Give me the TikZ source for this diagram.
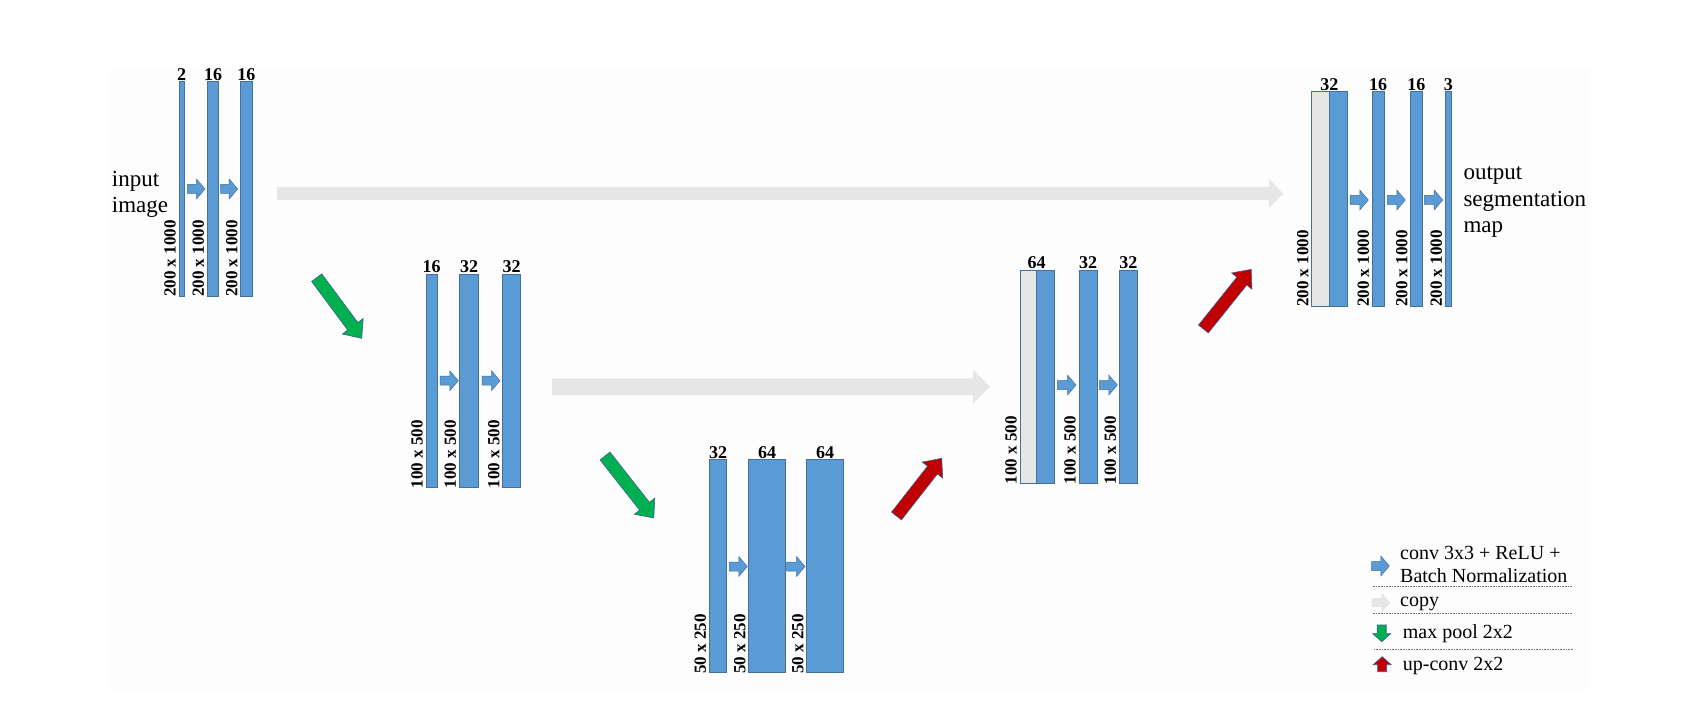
\documentclass[tikz,border=0pt]{standalone}
\usepackage{fontspec}
\setmainfont{Liberation Serif}
\usetikzlibrary{calc}
\definecolor{barblue}{HTML}{5B9BD5}
\definecolor{barline}{HTML}{41719C}
\definecolor{catgrey}{HTML}{E7E6E6}
\definecolor{copygrey}{HTML}{E6E6E6}
\definecolor{poolgreen}{HTML}{00B050}
\definecolor{upred}{HTML}{C00000}
\definecolor{arrline}{HTML}{3A5F8F}
\definecolor{bgfaint}{HTML}{FDFDFD}
\tikzset{
  bar/.style={draw=barline, fill=barblue, line width=0.7pt, inner sep=0pt, outer sep=0pt, anchor=north west},
  catbar/.style={bar, fill=catgrey},
  toplab/.style={font=\fontsize{18}{20}\selectfont\bfseries, inner sep=0pt, anchor=base},
  dimlab/.style={font=\fontsize{17}{19}\selectfont\bfseries, inner sep=0pt, rotate=90, anchor=south west, xshift=-1pt, yshift=3pt},
  convarrow/.style={fill=barblue, draw=barline, line width=0.5pt},
  copyarrow/.style={fill=copygrey, draw=none},
  poolarrow/.style={fill=poolgreen, draw=arrline, line width=0.6pt},
  uparrow/.style={fill=upred, draw=arrline, line width=0.6pt},
  bigtext/.style={font=\fontsize{23}{26.5}\selectfont, inner sep=0pt, align=left, anchor=base west},
  legtext/.style={font=\fontsize{20}{22.5}\selectfont, inner sep=0pt, align=left, anchor=base west},
  legline/.style={densely dotted, draw=black!55, line width=0.6pt}
}
% #1 style, #2 tail, #3 tip, #4 half shaft width, #5 half head width, #6 head length
\newcommand\blockarrow[6]{%
  \coordinate (tmph) at ($(#3)!#6!(#2)$);
  \draw[#1] ($(#2)!#4!90:(#3)$) -- ($(tmph)!#4!-90:(#2)$) -- ($(tmph)!#5!-90:(#2)$)
    -- (#3) -- ($(tmph)!#5!90:(#2)$) -- ($(tmph)!#4!90:(#2)$) -- ($(#2)!#4!-90:(#3)$) -- cycle;
}
\newcommand\convarr[2]{\blockarrow{convarrow}{#1}{#2}{4.5pt}{10pt}{8.5pt}}
\begin{document}
\begin{tikzpicture}[x=1pt, y=-1pt]
\path[use as bounding box, fill=white] (0,0) rectangle (1703,703);
\fill[bgfaint] (110,68) rectangle (1590,690);

% ---------- encoder level 1
\node[bar, minimum width=5pt, minimum height=214.3pt] (e11) at (179,81.7) {};
\node[bar, minimum width=11.4pt, minimum height=214.3pt] (e12) at (207.3,81.7) {};
\node[bar, minimum width=11.3pt, minimum height=214.3pt] (e13) at (240.7,81.7) {};
\node[toplab] (l11) at ([yshift=1pt]e11.north) {2};
\node[toplab] (l12) at ([yshift=1pt]e12.north) {16};
\node[toplab] (l13) at ([yshift=1pt]e13.north) {16};
\node[dimlab] (s11) at (e11.south west) {200 x 1000};
\node[dimlab] (s12) at (e12.south west) {200 x 1000};
\node[dimlab] (s13) at (e13.south west) {200 x 1000};
\coordinate (a11t) at (187.3,189); \coordinate (a11h) at (205,189);
\coordinate (a12t) at (220.7,189); \coordinate (a12h) at (237.7,189);
\convarr{a11t}{a11h}
\convarr{a12t}{a12h}
\node[bigtext] (inlab) at (111.7,213) {input\\image};

% ---------- encoder level 2
\node[bar, minimum width=11.3pt, minimum height=213.3pt] (e21) at (426,274) {};
\node[bar, minimum width=19.4pt, minimum height=213.3pt] (e22) at (459.3,274) {};
\node[bar, minimum width=18pt, minimum height=213.3pt] (e23) at (502.7,274) {};
\node[toplab] (l21) at ([yshift=1pt]e21.north) {16};
\node[toplab] (l22) at ([yshift=1pt]e22.north) {32};
\node[toplab] (l23) at ([yshift=1pt]e23.north) {32};
\node[dimlab] (s21) at (e21.south west) {100 x 500};
\node[dimlab] (s22) at (e22.south west) {100 x 500};
\node[dimlab] (s23) at (e23.south west) {100 x 500};
\coordinate (a21t) at (440,380.7); \coordinate (a21h) at (458.3,380.7);
\coordinate (a22t) at (482,380.7); \coordinate (a22h) at (500,380.7);
\convarr{a21t}{a21h}
\convarr{a22t}{a22h}

% ---------- level 3
\node[bar, minimum width=17.4pt, minimum height=213.4pt] (e31) at (709.3,459.3) {};
\node[bar, minimum width=36.6pt, minimum height=213.4pt] (e32) at (748.7,459.3) {};
\node[bar, minimum width=36.6pt, minimum height=213.4pt] (e33) at (806.7,459.3) {};
\node[toplab] (l31) at ([yshift=1pt]e31.north) {32};
\node[toplab] (l32) at ([yshift=1pt]e32.north) {64};
\node[toplab] (l33) at ([yshift=1pt]e33.north) {64};
\node[dimlab] (s31) at (e31.south west) {50 x 250};
\node[dimlab] (s32) at (e32.south west) {50 x 250};
\node[dimlab] (s33) at (e33.south west) {50 x 250};
\coordinate (a31t) at (729.3,566.5); \coordinate (a31h) at (747.3,566.5);
\coordinate (a32t) at (786.7,566.5); \coordinate (a32h) at (805,566.5);
\convarr{a31t}{a31h}
\convarr{a32t}{a32h}

% ---------- decoder level 2
\node[catbar, minimum width=16.7pt, minimum height=213.3pt] (d2g) at (1020,270) {};
\node[bar, minimum width=17.6pt, minimum height=213.3pt] (d21) at (1036.7,270) {};
\node[bar, minimum width=18pt, minimum height=213.3pt] (d22) at (1079,270) {};
\node[bar, minimum width=18pt, minimum height=213.3pt] (d23) at (1119.3,270) {};
\node[toplab] (l41) at ([yshift=1pt]d2g.north east) {64};
\node[toplab] (l42) at ([yshift=1pt]d22.north) {32};
\node[toplab] (l43) at ([yshift=1pt]d23.north) {32};
\node[dimlab] (s41) at (d2g.south west) {100 x 500};
\node[dimlab] (s42) at (d22.south west) {100 x 500};
\node[dimlab] (s43) at (d23.south west) {100 x 500};
\coordinate (a41t) at (1057.3,385); \coordinate (a41h) at (1076,385);
\coordinate (a42t) at (1099.3,385); \coordinate (a42h) at (1117.3,385);
\convarr{a41t}{a41h}
\convarr{a42t}{a42h}

% ---------- decoder level 1
\node[catbar, minimum width=17.6pt, minimum height=214.3pt] (d1g) at (1311.7,91.7) {};
\node[bar, minimum width=18pt, minimum height=214.3pt] (d11) at (1329.3,91.7) {};
\node[bar, minimum width=11.7pt, minimum height=214.3pt] (d12) at (1372.3,91.7) {};
\node[bar, minimum width=11.3pt, minimum height=214.3pt] (d13) at (1410.7,91.7) {};
\node[bar, minimum width=6pt, minimum height=214.3pt] (d14) at (1445.3,91.7) {};
\node[toplab] (l51) at ([yshift=1pt]d1g.north east) {32};
\node[toplab] (l52) at ([yshift=1pt]d12.north) {16};
\node[toplab] (l53) at ([yshift=1pt]d13.north) {16};
\node[toplab] (l54) at ([yshift=1pt]d14.north) {3};
\node[dimlab] (s51) at (d1g.south west) {200 x 1000};
\node[dimlab] (s52) at (d12.south west) {200 x 1000};
\node[dimlab] (s53) at (d13.south west) {200 x 1000};
\node[dimlab] (s54) at (d14.south west) {200 x 1000};
\coordinate (a51t) at (1350,200); \coordinate (a51h) at (1368.3,200);
\coordinate (a52t) at (1387.3,200); \coordinate (a52h) at (1405.3,200);
\coordinate (a53t) at (1424.3,200); \coordinate (a53h) at (1442.7,200);
\convarr{a51t}{a51h}
\convarr{a52t}{a52h}
\convarr{a53t}{a53h}
\node[bigtext] (outlab) at (1463.3,233) {output\\segmentation\\map};

% ---------- copy arrows
\coordinate (c1t) at (277,193.5); \coordinate (c1h) at (1283,193.5);
\coordinate (c2t) at (552,386.7); \coordinate (c2h) at (990,386.7);
\blockarrow{copyarrow}{c1t}{c1h}{6.7pt}{14.5pt}{14pt}
\blockarrow{copyarrow}{c2t}{c2h}{8.3pt}{17pt}{17pt}

% ---------- max pool arrows
\coordinate (g1t) at (316.7,277.7); \coordinate (g1h) at (361.7,338.3);
\coordinate (g2t) at (605,456); \coordinate (g2h) at (653.8,518);
\blockarrow{poolarrow}{g1t}{g1h}{6.3pt}{13pt}{15pt}
\blockarrow{poolarrow}{g2t}{g2h}{6.3pt}{13pt}{15pt}

% ---------- up-conv arrows
\coordinate (r1t) at (896.5,516); \coordinate (r1h) at (941.7,458.3);
\coordinate (r2t) at (1203.4,329); \coordinate (r2h) at (1251.2,269.4);
\blockarrow{uparrow}{r1t}{r1h}{6.3pt}{13pt}{15pt}
\blockarrow{uparrow}{r2t}{r2h}{6.3pt}{13pt}{15pt}

% ---------- legend
\coordinate (k1t) at (1371.7,566); \coordinate (k1h) at (1389.3,566);
\convarr{k1t}{k1h}
\node[legtext] (k1l) at (1400,582) {conv 3x3 + ReLU +\\Batch Normalization};
\coordinate (q1a) at (1372.7,586.7); \coordinate (q1b) at (1572,586.7);
\draw[legline] (q1a) -- (q1b);
\coordinate (k2t) at (1371.7,602.7); \coordinate (k2h) at (1390,602.7);
\blockarrow{copyarrow}{k2t}{k2h}{4.5pt}{10pt}{8.5pt}
\node[legtext] (k2l) at (1400,606.7) {copy};
\coordinate (q2a) at (1372.7,613.3); \coordinate (q2b) at (1572,613.3);
\draw[legline] (q2a) -- (q2b);
\coordinate (k3t) at (1381.7,625); \coordinate (k3h) at (1381.7,641.7);
\blockarrow{poolarrow}{k3t}{k3h}{4.5pt}{9pt}{8pt}
\node[legtext] (k3l) at (1402.7,638.3) {max pool 2x2};
\coordinate (q3a) at (1374,649.3); \coordinate (q3b) at (1573,649.3);
\draw[legline] (q3a) -- (q3b);
\coordinate (k4t) at (1382.2,671.7); \coordinate (k4h) at (1382.2,656.7);
\blockarrow{uparrow}{k4t}{k4h}{4.5pt}{9pt}{8pt}
\node[legtext] (k4l) at (1402.7,670) {up-conv 2x2};
\end{tikzpicture}
\end{document}
